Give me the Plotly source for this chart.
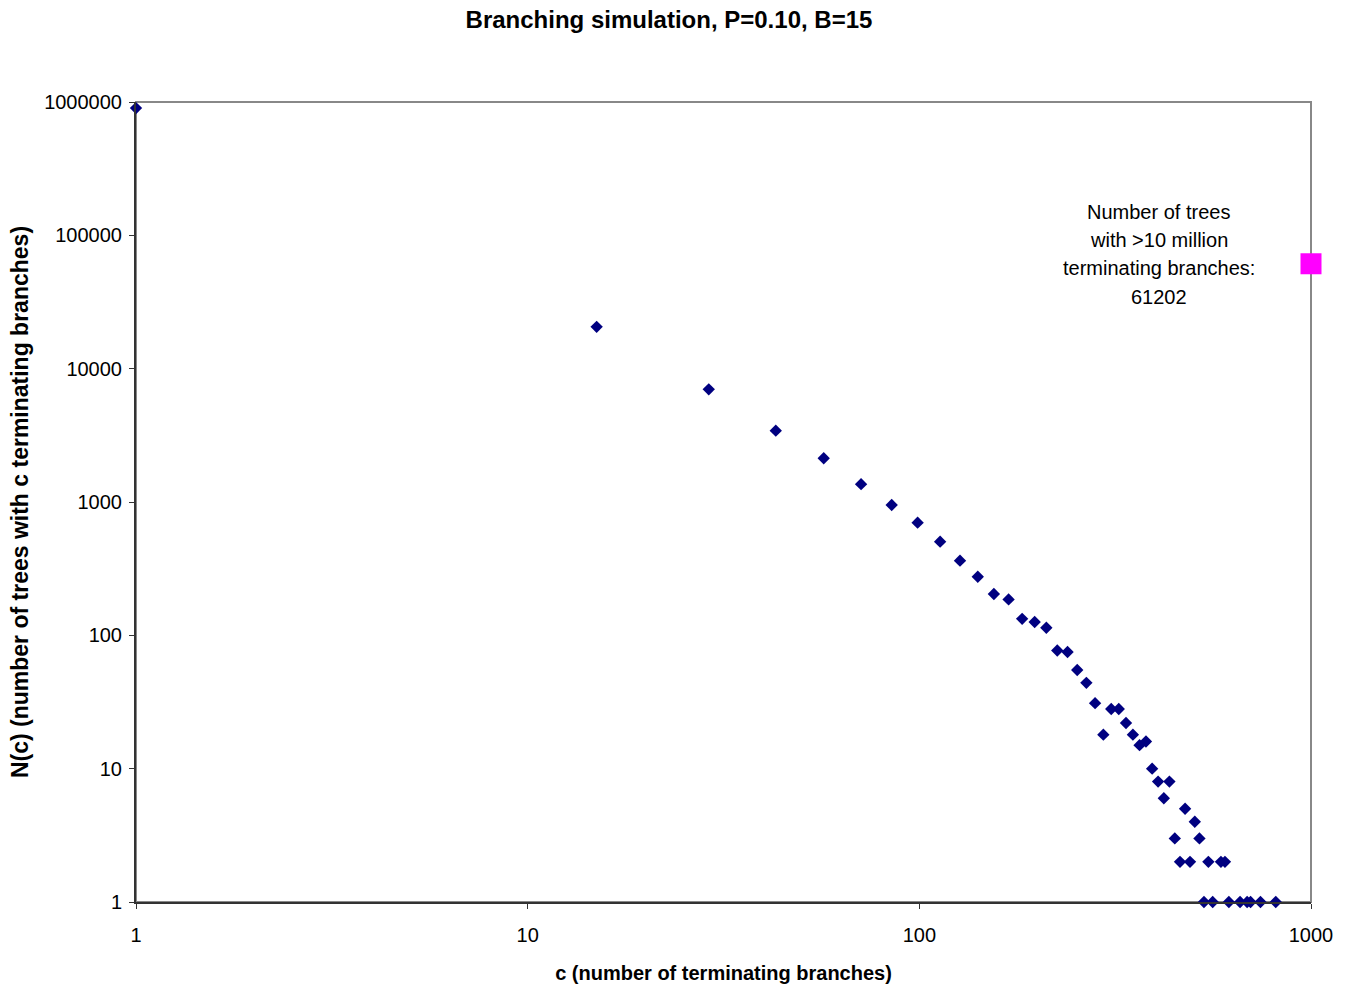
import math
import plotly.graph_objects as go

# Number of terminating branches c
c_values = [1, 15, 29, 43, 57, 71, 85, 99, 113, 127, 141, 155, 169, 183, 197, 211,
            225, 239, 253, 267, 281, 295, 309, 323, 337, 351, 365, 379, 393, 407,
            421, 435, 449, 463, 477, 491, 505, 519, 533, 547, 561, 589, 603, 617,
            659, 687, 701, 743, 813]
# Number of trees with c terminating branches
n_values = [900000, 20600, 7000, 3430, 2130, 1360, 950, 700, 504, 363, 275, 204, 186,
            133, 126, 114, 77, 75, 55, 44, 31, 18, 28, 28, 22, 18, 15, 16, 10, 8,
            6, 8, 3, 2, 5, 2, 4, 3, 1, 2, 1, 2, 2, 1,
            1, 1, 1, 1, 1]

overflow_x = [1000]
overflow_n = [61202]
note_lines = ["Number of trees", "with >10 million", "terminating branches:", str(overflow_n[0])]

y_ticks = [1, 10, 100, 1000, 10000, 100000, 1000000]
y_tick_text = ["1", "10", "100", "1000", "10000", "100000", "1000000"]
x_ticks = [1, 10, 100, 1000]
x_tick_text = ["1", "10", "100", "1000"]

FONT = "Liberation Sans, Arial, sans-serif"

fig = go.Figure()
fig.add_trace(go.Scatter(
    x=c_values, y=n_values, mode="markers",
    marker=dict(symbol="diamond", size=9.5, color="#000080"),
    cliponaxis=False, showlegend=False))
fig.add_trace(go.Scatter(
    x=overflow_x, y=overflow_n, mode="markers",
    marker=dict(symbol="square", size=21, color="#FF00FF"),
    cliponaxis=False, showlegend=False))

for i, line in enumerate(note_lines):
    fig.add_annotation(
        x=0.8706, xref="paper", y=math.log10(overflow_n[0]), yref="y",
        text=line, showarrow=False, font=dict(family=FONT, size=20, color="black"),
        align="center", xanchor="center", yanchor="middle",
        yshift=52 - 28.3 * i)

fig.update_layout(
    width=1346, height=990,
    margin=dict(l=136, r=35, t=102, b=88, autoexpand=False),
    paper_bgcolor="white", plot_bgcolor="white",
    font=dict(family=FONT, size=20, color="black"),
    title=dict(text="<b>Branching simulation, P=0.10, B=15</b>",
               x=0.497, xanchor="center", y=1 - 20 / 990, yanchor="middle",
               font=dict(family=FONT, size=24, color="black")),
)
fig.update_xaxes(
    type="log", range=[0, 3], tickmode="array", tickvals=x_ticks, ticktext=x_tick_text,
    showgrid=False, zeroline=False, showline=True, linecolor="#333333", linewidth=2,
    ticks="outside", ticklen=5, tickcolor="#333333", mirror=False, automargin=False,
    ticklabelstandoff=9,
    title=dict(text="<b>c (number of terminating branches)</b>", standoff=21,
               font=dict(family=FONT, size=20)),
    tickfont=dict(family=FONT, size=20))
fig.update_yaxes(
    type="log", range=[0, 6], tickmode="array", tickvals=y_ticks, ticktext=y_tick_text,
    showgrid=False, zeroline=False, showline=True, linecolor="#333333", linewidth=2,
    ticks="outside", ticklen=5, tickcolor="#333333", automargin=False,
    ticklabelstandoff=3,
    title=dict(text="<b>N(c) (number of trees with c terminating branches)</b>", standoff=9,
               font=dict(family=FONT, size=23)),
    tickfont=dict(family=FONT, size=20))

# gray top and right border
fig.add_shape(type="rect", xref="paper", yref="paper", x0=0, x1=1, y0=0, y1=1,
              line=dict(color="#888888", width=2), layer="below")

fig.write_html("out.html",
               config={"displayModeBar": False},
               post_script="document.body.style.margin='0';document.body.style.overflow='hidden';")
